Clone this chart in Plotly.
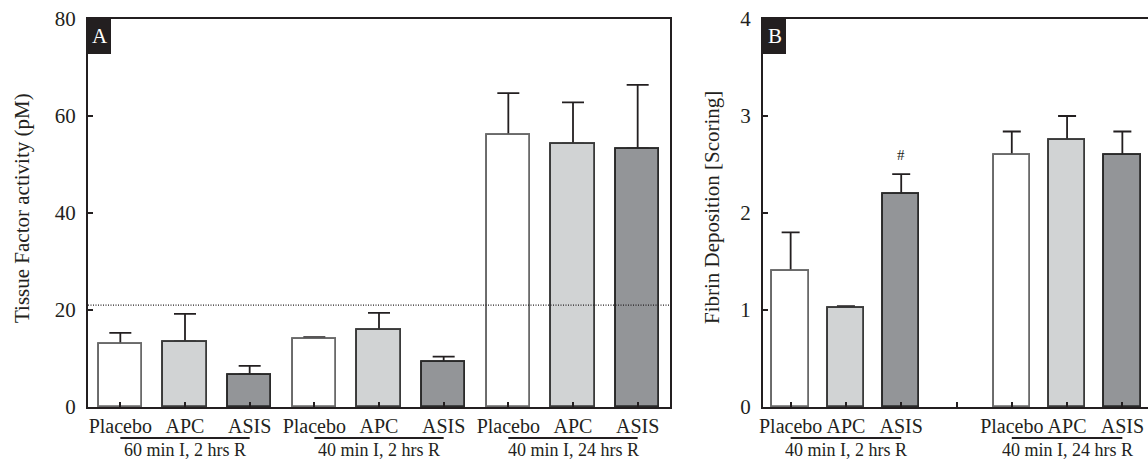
import plotly.graph_objects as go

# ---- data -------------------------------------------------------------
# Panel A: tissue factor activity (pM), mean and upper SEM
a_treatments = ["Placebo", "APC", "ASIS", "Placebo", "APC", "ASIS", "Placebo", "APC", "ASIS"]
a_values = [13.0, 13.5, 6.7, 14.0, 15.9, 9.3, 56.0, 54.3, 53.3]
a_errors = [2.3, 5.7, 1.8, 0.4, 3.5, 1.1, 8.7, 8.5, 13.1]
a_groups = ["60 min I, 2 hrs R", "40 min I, 2 hrs R", "40 min I, 24 hrs R"]
a_reference_level = 21.0
a_yticks = [0, 20, 40, 60, 80]

# Panel B: fibrin deposition score; position 3 is an empty spacer slot
b_treatments = ["Placebo", "APC", "ASIS", "", "Placebo", "APC", "ASIS"]
b_values = [1.40, 1.02, 2.20, None, 2.60, 2.75, 2.60]
b_errors = [0.40, 0.02, 0.20, None, 0.24, 0.25, 0.24]
b_groups = ["40 min I, 2 hrs R", "40 min I, 24 hrs R"]
b_significant = ["", "", "#", "", "", "", ""]
b_yticks = [0, 1, 2, 3, 4]

# ---- styling ----------------------------------------------------------
W, H = 1148, 462
FONT = "Liberation Serif, Times New Roman, serif"
INK = "#231f20"
FILL = {"Placebo": "#ffffff", "APC": "#d1d3d4", "ASIS": "#939598", "": "rgba(0,0,0,0)"}
EDGE = {"Placebo": "#6a6a6a", "APC": "#3a3a3a", "ASIS": "#2a2a2a", "": "rgba(0,0,0,0)"}


def px_x(p):
    return p / W


def px_y(p):
    return 1 - p / H


A_DOM_X = [px_x(88), px_x(670)]
B_DOM_X = [px_x(763), 1.0]
DOM_Y = [px_y(407), px_y(19)]

fig = go.Figure()


def add_bars(x, values, errors, treatments, width, cap, xa, ya):
    marker = dict(color=[FILL[t] for t in treatments],
                  line=dict(color=[EDGE[t] for t in treatments], width=1.8))
    # bars carrying the upward SEM whiskers
    fig.add_trace(go.Bar(
        x=x, y=values, width=width, marker=marker,
        error_y=dict(type="data", symmetric=False, array=errors,
                     arrayminus=[0] * len(errors), color=INK, thickness=1.8, width=cap),
        xaxis=xa, yaxis=ya, showlegend=False, hoverinfo="skip",
    ))
    # same bars redrawn on top so the lower whisker cap stays hidden
    fig.add_trace(go.Bar(
        x=x, y=values, width=width, marker=marker,
        xaxis=xa, yaxis=ya, showlegend=False, hoverinfo="skip",
    ))


a_x = list(range(len(a_treatments)))
b_x = list(range(len(b_treatments)))
add_bars(a_x, a_values, a_errors, a_treatments, 0.67, 11, "x", "y")
add_bars(b_x, b_values, b_errors, b_treatments, 0.66, 9, "x2", "y2")

axis_common = dict(
    showline=True, linecolor=INK, linewidth=2, showgrid=False, zeroline=False,
    ticks="inside", ticklen=5, tickwidth=1.5, tickcolor=INK, automargin=False,
)
yfont = dict(family=FONT, size=21, color=INK)
xfont = dict(family=FONT, size=20, color=INK)

b_right = -0.5 + 7 * (W - 763) / 387.0

fig.update_layout(
    width=W, height=H,
    margin=dict(l=0, r=0, t=0, b=0),
    paper_bgcolor="white", plot_bgcolor="white",
    barmode="overlay", bargap=0,
    xaxis=dict(domain=A_DOM_X, range=[-0.5, len(a_treatments) - 0.5], mirror=True,
               tickvals=a_x, ticktext=a_treatments, ticklabelstandoff=0, anchor="y",
               tickangle=0, tickfont=xfont, **axis_common),
    yaxis=dict(domain=DOM_Y, range=[0, 80], mirror=True, tickvals=a_yticks,
               ticklabelstandoff=6, anchor="x", tickfont=yfont, **axis_common),
    xaxis2=dict(domain=B_DOM_X, range=[-0.5, b_right], mirror=True,
                tickvals=b_x, ticktext=b_treatments, ticklabelstandoff=0, anchor="y2",
                tickangle=0, tickfont=xfont, **axis_common),
    yaxis2=dict(domain=DOM_Y, range=[0, 4], mirror=False, tickvals=b_yticks,
                ticklabelstandoff=6, anchor="x2", tickfont=yfont, **axis_common),
)

# dotted reference level in panel A
fig.add_shape(type="line", xref="x domain", yref="y", x0=0, x1=1,
              y0=a_reference_level, y1=a_reference_level,
              line=dict(color=INK, width=1.2, dash="1px,1.5px"))


# group underlines and labels
def add_groups(xref, groups, centers):
    for name, c in zip(groups, centers):
        fig.add_shape(type="line", xref=xref, yref="paper", x0=c - 1, x1=c + 1,
                      y0=px_y(438), y1=px_y(438), line=dict(color=INK, width=2))
        fig.add_annotation(x=c, xref=xref, y=0, yref="paper", yanchor="bottom",
                           text=name, showarrow=False,
                           font=dict(family=FONT, size=18, color=INK))


add_groups("x", a_groups, [1, 4, 7])
add_groups("x2", b_groups, [1, 5])

# significance marks
for xi, mark, v, e in zip(b_x, b_significant, b_values, b_errors):
    if mark:
        fig.add_annotation(x=xi, xref="x2", y=v + e + 0.2, yref="y2", text=mark,
                           showarrow=False, yanchor="middle",
                           font=dict(family=FONT, size=15, color=INK))

# panel letters on black tags
for letter, x0 in (("A", 88), ("B", 763)):
    fig.add_shape(type="rect", xref="paper", yref="paper",
                  x0=px_x(x0), x1=px_x(x0 + 23), y0=px_y(54), y1=px_y(19),
                  fillcolor=INK, line=dict(width=0))
    fig.add_annotation(x=px_x(x0 + 11.5), y=px_y(36.5), xref="paper", yref="paper",
                       text=letter, showarrow=False, xanchor="center", yanchor="middle",
                       font=dict(family=FONT, size=21, color="white"))

# axis titles
for title, xc in (("Tissue Factor activity (pM)", 22), ("Fibrin Deposition [Scoring]", 712)):
    fig.add_annotation(x=px_x(xc), y=px_y(208), xref="paper", yref="paper",
                       text=title, textangle=-90, showarrow=False,
                       xanchor="center", yanchor="middle",
                       font=dict(family=FONT, size=21, color=INK))

fig.write_html("out.html")
